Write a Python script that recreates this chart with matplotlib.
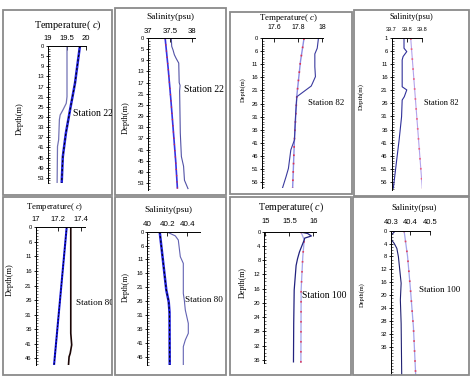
import matplotlib
matplotlib.use('Agg')
import matplotlib.pyplot as plt
from matplotlib.patches import Rectangle
from matplotlib.ticker import MultipleLocator

plt.rcParams['mathtext.fontset'] = 'custom'
plt.rcParams['mathtext.it'] = 'Liberation Serif:italic'
plt.rcParams['mathtext.rm'] = 'Liberation Serif'

SERIF = ['Liberation Serif', 'DejaVu Serif']
SANS = ['Liberation Sans', 'DejaVu Sans']

# ---------------- data ----------------
# Station 22 temperature
p1_obs_depth = [1, 21, 23.6, 26, 28.2, 30, 38, 40.6, 55]
p1_obs_val = [19.50, 19.50, 19.48, 19.40, 19.32, 19.30, 19.28, 19.25, 19.24]
p1_mod_depth = [1, 15.7, 26.2, 35.4, 44.6, 55]
p1_mod_val = [19.84, 19.71, 19.58, 19.47, 19.39, 19.36]
# Station 22 salinity
p2_obs_depth = [1, 4, 5.3, 7, 8.3, 10, 17, 18, 20, 30, 35, 43.5, 47, 52, 55]
p2_obs_val = [37.53, 37.54, 37.57, 37.60, 37.64, 37.70, 37.71, 37.73, 37.72, 37.73, 37.735, 37.76, 37.81, 37.83, 37.91]
p2_mod_depth = [1, 12, 23, 35, 45, 55]
p2_mod_val = [37.39, 37.46, 37.52, 37.58, 37.63, 37.67]
# Station 82 temperature
p3_obs_depth = [1, 4.8, 7, 11.9, 15.7, 18.3, 19.3, 23.4, 30, 40, 43.8, 50.9, 54.1, 58.5]
p3_obs_val = [17.97, 17.96, 17.94, 17.94, 17.945, 17.92, 17.91, 17.79, 17.78, 17.77, 17.74, 17.72, 17.70, 17.67]
p3_mod_depth = [1, 10, 23, 40, 58.5]
p3_mod_val = [17.85, 17.82, 17.79, 17.77, 17.755]
# Station 82 salinity
p4_obs_depth = [1, 4.8, 6.1, 8.0, 9.3, 19.6, 20.8, 23.4, 24.7, 31.1, 40, 47.7, 58.5]
p4_obs_val = [39.741, 39.741, 39.75, 39.738, 39.735, 39.735, 39.75, 39.742, 39.735, 39.733, 39.725, 39.717, 39.706]
p4_mod_depth = [1, 58.5]
p4_mod_val = [39.763, 39.801]
# Station 80 temperature
p5_obs_depth = [1, 37.4, 41.4, 44.3, 45.5, 48.3]
p5_obs_val = [17.31, 17.31, 17.318, 17.305, 17.295, 17.29]
p5_mod_depth = [1, 48.3]
p5_mod_val = [17.274, 17.163]
# Station 80 salinity
p6_obs_depth = [1, 2.5, 4, 10, 12.4, 23.2, 25.6, 29.2, 34, 37.6, 40, 42.4, 49]
p6_obs_val = [40.19, 40.28, 40.31, 40.33, 40.36, 40.36, 40.37, 40.38, 40.41, 40.41, 40.38, 40.36, 40.36]
p6_mod_depth = [1, 22, 26.2, 30, 49]
p6_mod_val = [40.124, 40.19, 40.214, 40.222, 40.224]
# Station 100 temperature
p7_obs_depth = [0, 0.5, 1.2, 1.8, 2.3, 5.7, 7.6, 9.5, 16.4, 25.8, 36.6]
p7_obs_val = [15.70, 15.88, 15.96, 15.82, 15.81, 15.71, 15.67, 15.64, 15.60, 15.59, 15.585]
p7_mod_depth = [0, 2.3, 7, 16.4, 37]
p7_mod_val = [15.74, 15.81, 15.78, 15.745, 15.74]
# Station 100 salinity
p8_obs_depth = [0, 0.5, 1.3, 2.9, 3.9, 5.5, 8.1, 12.2, 16.3, 21.5, 28.8, 45.3]
p8_obs_val = [40.324, 40.315, 40.302, 40.303, 40.316, 40.33, 40.338, 40.345, 40.352, 40.348, 40.352, 40.355]
p8_mod_depth = [0, 8, 18.4, 30, 45.3]
p8_mod_val = [40.367, 40.385, 40.40, 40.415, 40.427]

ticks_a = list(range(1, 54, 4))
labels_a = ['0'] + [str(v) for v in ticks_a[1:]]
ticks_b = list(range(1, 57, 5))
labels_b = ['0'] + [str(v) for v in ticks_b[1:]]
labels_b1 = [str(v) for v in ticks_b]
ticks_c = list(range(1, 47, 5))
labels_c = ['0'] + [str(v) for v in ticks_c[1:]]
ticks_d = list(range(0, 37, 4))
labels_d = [str(v) for v in ticks_d]

W, H = 471, 377
fig = plt.figure(figsize=(W / 100, H / 100), dpi=100)


def fx(x):
    return x / W


def fy(y):
    return 1 - y / H


def panel(box, axp, xlim, ylim, xt, xtl, yt, ytl, title, tpos, tfs, station, spos, sfs,
          lpos, lfs, xfs, yfs, ldist, obs, mod, obs_c, obs_lw, mod_c, mod_lw, dash_c, dash_lw, dash):
    l, t, r, b = box
    rect = Rectangle((fx(l), fy(b)), (r - l) / W, (b - t) / H, transform=fig.transFigure,
                     fill=False, ec='#8a8a8a', lw=1.3)
    fig.patches.append(rect)
    al, at, ar, ab = axp
    ax = fig.add_axes([fx(al), fy(ab), (ar - al) / W, (ab - at) / H])
    ax.patch.set_alpha(0)
    ax.set_xlim(*xlim)
    ax.set_ylim(*ylim)
    ax.xaxis.tick_top()
    for s in ('bottom', 'right'):
        ax.spines[s].set_visible(False)
    for s in ('top', 'left'):
        ax.spines[s].set_linewidth(0.7)
    ax.set_xticks(xt)
    ax.set_xticklabels(xtl)
    ax.set_yticks(yt)
    ax.set_yticklabels(ytl)
    ax.yaxis.set_minor_locator(MultipleLocator(1))
    pad = (ldist - 0.58 * xfs * 1.389) / 1.389
    ax.tick_params(axis='x', which='major', direction='in', length=3, width=0.6,
                   pad=pad, labelsize=xfs)
    ax.tick_params(axis='y', which='major', direction='inout', length=3, width=0.6,
                   pad=1.2, labelsize=yfs)
    ax.tick_params(axis='y', which='minor', direction='in', length=1.6, width=0.4)
    for lab in ax.get_xticklabels() + ax.get_yticklabels():
        lab.set_family(SANS)
    ax.plot(mod[1], mod[0], color=mod_c, lw=mod_lw, solid_capstyle='butt')
    ax.plot(mod[1], mod[0], color=dash_c, lw=dash_lw, dashes=dash)
    ax.plot(obs[1], obs[0], color=obs_c, lw=obs_lw)
    fig.text(fx(tpos[0]), fy(tpos[1]), title, ha='center', va='center', fontsize=tfs, family=SERIF)
    st = fig.text(fx(spos[0]), fy(spos[1]), station, ha='left', va='center', fontsize=sfs, family=SERIF)
    st.set_clip_path(rect)
    fig.text(fx(lpos[0]), fy(lpos[1]), 'Depth(m)', rotation=90, ha='center', va='center',
             fontsize=lfs, family=SERIF)
    return ax


TT = 'Temperature( $c$)'
SS = 'Salinity(psu)'

panel((3, 10, 112, 195), (48, 46, 86, 183), (19, 20), (55, 1), [19, 19.5, 20], ['19', '19.5', '20'],
      ticks_a, labels_a, TT, (68, 25), 7.4, 'Station 22', (73, 113), 7.0, (20, 119), 6.0, 5.5, 4.2, 8,
      (p1_obs_depth, p1_obs_val), (p1_mod_depth, p1_mod_val), '#7272b4', 0.9, '#2424e0', 1.8, 'black', 0.8, (2, 2))

panel((115, 8, 226, 195), (148, 38, 195, 190), (37, 38.07), (55.5, 1), [37, 37.5, 38], ['37', '37.5', '38'],
      ticks_a, labels_a, SS, (170, 17), 6.7, 'Station 22', (184, 90), 7.0, (126, 118), 6.0, 5.6, 4.2, 8,
      (p2_obs_depth, p2_obs_val), (p2_mod_depth, p2_mod_val), '#5252a6', 0.8, '#3434e4', 1.2, '#e02040', 0.9, (1, 4))

panel((230, 12, 352, 194), (262, 38.3, 323, 188), (17.5, 18.008), (58.4, 1), [17.6, 17.8, 18.0],
      ['17.6', '17.8', '18'], ticks_b, labels_b, TT, (288, 18), 6.4, 'Station 82', (308, 103), 6.3,
      (243, 90), 4.6, 5.0, 4.2, 11,
      (p3_obs_depth, p3_obs_val), (p3_mod_depth, p3_mod_val), '#3a3a9e', 0.8, '#8c8ce4', 1.0, '#e03050', 1.2, (1, 4))

panel((354, 10, 469, 196), (391.5, 38.3, 422, 190), (39.7, 39.8), (59.2, 1), [39.7, 39.75, 39.8],
      ['39.7', '39.8', '39.8'], ticks_b, labels_b1, SS, (411, 17), 6.0, 'Station 82', (424, 103), 6.0,
      (361, 97), 5.0, 4.0, 4.2, 10,
      (p4_obs_depth, p4_obs_val), (p4_mod_depth, p4_mod_val), '#30309a', 0.8, '#b4a4ec', 0.8, '#f06080', 1.2, (1, 5))

panel((3, 197, 112, 375), (35.5, 227.3, 85, 365), (17, 17.435), (48.3, 1), [17, 17.2, 17.4],
      ['17', '17.2', '17.4'], ticks_c, labels_c, TT, (55, 207), 6.2, 'Station 80', (76, 303), 6.6,
      (10, 280), 6.0, 5.5, 4.2, 8.3,
      (p5_obs_depth, p5_obs_val), (p5_mod_depth, p5_mod_val), '#1a0505', 1.2, '#1414e0', 1.5, 'black', 0.7, (1.5, 2))

panel((115, 197, 226, 375), (147.3, 231.7, 199.7, 365), (40, 40.524), (49, 1), [40, 40.2, 40.4],
      ['40', '40.2', '40.4'], ticks_c, labels_c, SS, (168, 210), 6.7, 'Station 80', (184.7, 300), 6.6,
      (126, 287), 5.6, 5.8, 4.2, 8.7,
      (p6_obs_depth, p6_obs_val), (p6_mod_depth, p6_mod_val), '#6262b2', 0.8, '#2222e0', 1.8, 'black', 0.8, (2, 2))

panel((230, 197, 351, 375), (264.3, 231.7, 316, 363.3), (14.975, 16.056), (37, 0), [15, 15.5, 16],
      ['15', '15.5', '16'], ticks_d, labels_d, TT, (291, 207), 7.2, 'Station 100', (302, 295), 6.9,
      (243, 283), 5.8, 5.5, 4.2, 10.7,
      (p7_obs_depth, p7_obs_val), (p7_mod_depth, p7_mod_val), '#22227e', 0.9, '#a4a4ea', 0.9, '#e04060', 1.2, (1, 5))

panel((353, 197, 469, 375), (391, 230.7, 430, 375), (40.3, 40.5), (44.8, 0), [40.3, 40.4, 40.5],
      ['40.3', '40.4', '40.5'], ticks_d, labels_d, SS, (414, 208), 6.3, 'Station 100', (419, 290), 6.5,
      (362, 295), 4.6, 5.5, 4.2, 8.7,
      (p8_obs_depth, p8_obs_val), (p8_mod_depth, p8_mod_val), '#222272', 0.8, '#a4a4ea', 0.9, '#e04060', 1.2, (1, 5))

fig.savefig('out.png', dpi=100)
